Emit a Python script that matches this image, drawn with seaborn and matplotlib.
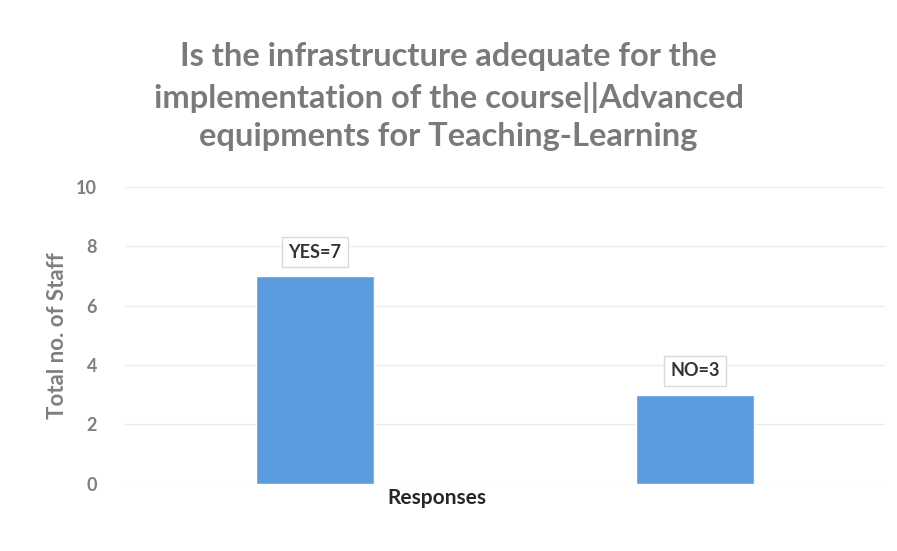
import matplotlib
matplotlib.use("Agg")
import matplotlib.pyplot as plt
import seaborn as sns
import pandas as pd

categories = ["YES", "NO"]
values = [7, 3]
labels = ["YES=7", "NO=3"]
title = "Is the infrastructure adequate for the\nimplementation of the course||Advanced\nequipments for Teaching-Learning"

sns.set_theme(style="white")
plt.rcParams['font.family'] = ['Lato', 'DejaVu Sans']

df = pd.DataFrame({"Response": categories, "Count": values})

fig = plt.figure(figsize=(8.97, 5.51), dpi=100)
ax = fig.add_axes([0.139, 0.122, 0.848, 0.539])

sns.barplot(data=df, x="Response", y="Count", color="#5b9ce0", width=0.31,
            saturation=1, ax=ax, zorder=3)

ax.set_ylim(0, 10)
ax.set_xlim(-0.5, 1.5)
ax.set_yticks([0, 2, 4, 6, 8, 10])
ax.yaxis.grid(True, color="#ececec", linewidth=1, zorder=0)
ax.set_axisbelow(True)
for s in ax.spines.values():
    s.set_visible(False)
ax.tick_params(axis="both", length=0)
ax.set_xticklabels([])
for t in ax.get_yticklabels():
    t.set_color("#7f7f7f")
    t.set_fontweight("bold")
    t.set_fontsize(13)
ax.tick_params(axis="y", pad=20)

ax.set_ylabel("Total no. of Staff", color="#7f7f7f", fontweight="bold", fontsize=16)
ax.yaxis.set_label_coords(-0.074, 0.5)
ax.set_xlabel("Responses", color="#262626", fontweight="bold", fontsize=15)
ax.xaxis.set_label_coords(0.41, -0.015)

for i, (v, lab) in enumerate(zip(values, labels)):
    ax.text(i, v + 0.8, lab, ha="center", va="center", fontsize=13,
            fontweight="bold", color="#333333",
            bbox=dict(boxstyle="square,pad=0.35", fc="white", ec="#d9d9d9", lw=1))

fig.text(0.5, 0.824, title, ha="center", va="center", fontsize=23.5,
         fontweight="bold", color="#7a7a7a", linespacing=1.4)

fig.savefig("out.png", dpi=100, facecolor="white")
